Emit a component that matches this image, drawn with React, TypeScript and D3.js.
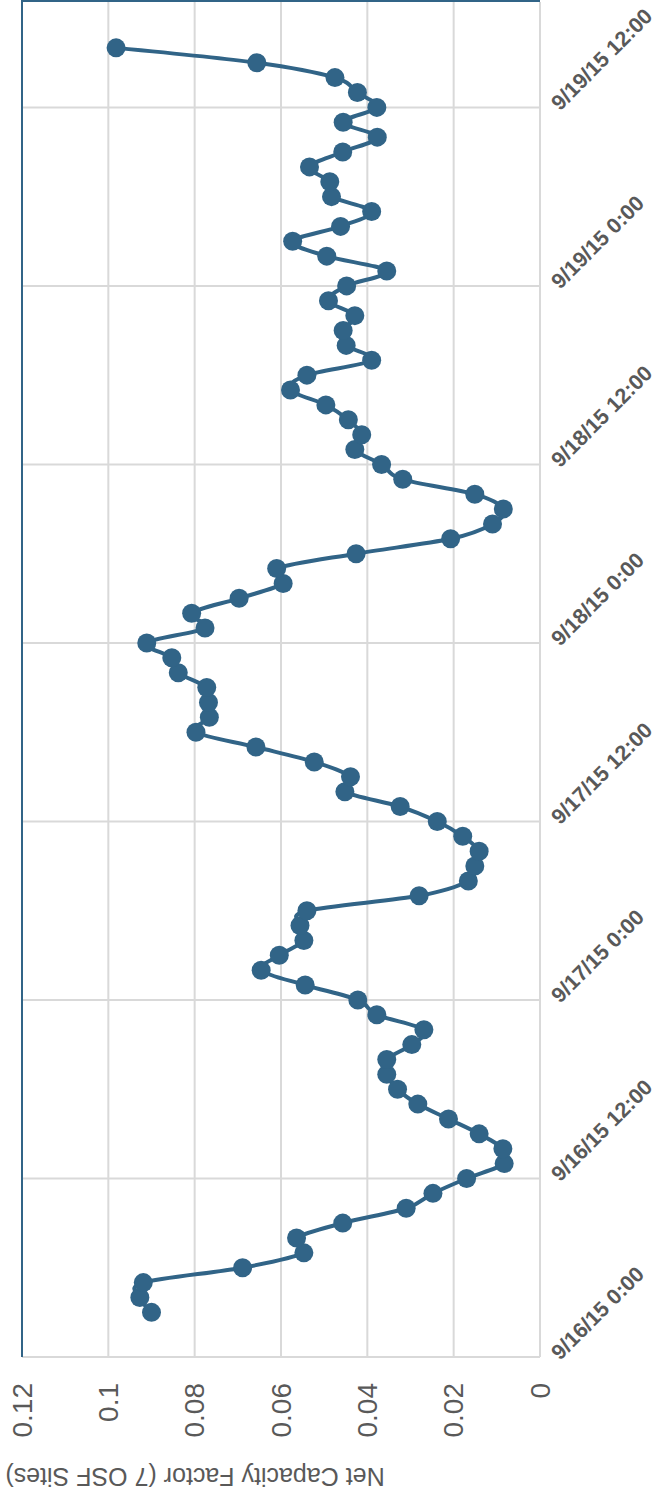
import React, { useEffect, useRef } from "react";
import * as d3 from "d3";

// hourly net capacity factor, first reading 9/16/15 3:00
const startTime = new Date(2015, 8, 16, 3, 0);
const capacityFactor = [
  0.0900, 0.0927, 0.0919, 0.0689, 0.0547, 0.0564, 0.0457, 0.0310, 0.0248, 0.0170,
  0.0083, 0.0086, 0.0141, 0.0212, 0.0283, 0.0330, 0.0355, 0.0355, 0.0297, 0.0269,
  0.0378, 0.0422, 0.0544, 0.0646, 0.0604, 0.0547, 0.0556, 0.0540, 0.0280, 0.0166,
  0.0151, 0.0141, 0.0179, 0.0238, 0.0324, 0.0452, 0.0439, 0.0523, 0.0658, 0.0797,
  0.0766, 0.0768, 0.0772, 0.0838, 0.0853, 0.0911, 0.0776, 0.0807, 0.0697, 0.0595,
  0.0610, 0.0426, 0.0207, 0.0110, 0.0085, 0.0151, 0.0318, 0.0367, 0.0429, 0.0413,
  0.0444, 0.0496, 0.0578, 0.0540, 0.0390, 0.0449, 0.0456, 0.0429, 0.0490, 0.0448,
  0.0355, 0.0494, 0.0573, 0.0462, 0.0390, 0.0483, 0.0487, 0.0534, 0.0457, 0.0377,
  0.0456, 0.0378, 0.0423, 0.0475, 0.0656, 0.0982,
];

const valueTicks = [0, 0.02, 0.04, 0.06, 0.08, 0.1, 0.12];
const timeTicks = [
  new Date(2015, 8, 16, 0), new Date(2015, 8, 16, 12),
  new Date(2015, 8, 17, 0), new Date(2015, 8, 17, 12),
  new Date(2015, 8, 18, 0), new Date(2015, 8, 18, 12),
  new Date(2015, 8, 19, 0), new Date(2015, 8, 19, 12),
];
const axisTitle = "Net Capacity Factor (7 OSF Sites)";

const W = 669;
const H = 1500;
const BLUE = "#316487";
const GRID = "#d9d9d9";
const TEXT = "#595959";
const FONT = "'Liberation Sans', Arial, sans-serif";

export default function App() {
  const svgRef = useRef<SVGSVGElement | null>(null);

  useEffect(() => {
    if (!svgRef.current) return;
    const svg = d3.select(svgRef.current);
    svg.selectAll("*").remove();

    const left = 22, right = 540, top = 2, bottom = 1357;

    // chart is drawn turned on its side: value runs right->left, time bottom->top
    const x = d3.scaleLinear().domain([0, 0.12]).range([right, left]);
    const y = d3.scaleTime()
      .domain([new Date(2015, 8, 16, 0), new Date(2015, 8, 19, 19, 5)])
      .range([bottom, top]);

    const data = capacityFactor.map((v, i) => ({
      t: d3.timeHour.offset(startTime, i),
      v,
    }));

    // gridlines
    svg.append("g")
      .selectAll("line")
      .data(valueTicks.filter(d => d > 0 && d < 0.12))
      .enter()
      .append("line")
      .attr("x1", d => x(d)).attr("x2", d => x(d))
      .attr("y1", top).attr("y2", bottom)
      .style("stroke", GRID).style("stroke-width", 2);

    svg.append("g")
      .selectAll("line")
      .data(timeTicks.slice(1))
      .enter()
      .append("line")
      .attr("x1", left).attr("x2", right)
      .attr("y1", d => y(d)).attr("y2", d => y(d))
      .style("stroke", GRID).style("stroke-width", 2);

    // frame
    svg.append("line").attr("x1", right).attr("x2", right).attr("y1", top).attr("y2", bottom)
      .style("stroke", GRID).style("stroke-width", 2);
    svg.append("line").attr("x1", left).attr("x2", right).attr("y1", bottom).attr("y2", bottom)
      .style("stroke", GRID).style("stroke-width", 2);
    svg.append("line").attr("x1", left).attr("x2", left).attr("y1", top - 2).attr("y2", bottom)
      .style("stroke", BLUE).style("stroke-width", 2);
    svg.append("line").attr("x1", left).attr("x2", right).attr("y1", top - 1).attr("y2", top - 1)
      .style("stroke", BLUE).style("stroke-width", 2);

    // series line
    const line = d3.line<{ t: Date; v: number }>()
      .x(d => x(d.v))
      .y(d => y(d.t))
      .curve(d3.curveCatmullRom.alpha(0));

    svg.append("path")
      .datum(data)
      .attr("d", line)
      .style("fill", "none")
      .style("stroke", BLUE)
      .style("stroke-width", 4);

    svg.append("g")
      .selectAll("circle")
      .data(data)
      .enter()
      .append("circle")
      .attr("cx", d => x(d.v))
      .attr("cy", d => y(d.t))
      .attr("r", 9.5)
      .style("fill", BLUE);

    // value labels, turned -90
    svg.append("g")
      .selectAll("text")
      .data(valueTicks)
      .enter()
      .append("text")
      .attr("transform", d => `translate(${x(d)},${bottom + 26}) rotate(-90)`)
      .attr("text-anchor", "end")
      .attr("dy", "0.35em")
      .attr("font-family", FONT)
      .attr("font-size", 28)
      .attr("fill", TEXT)
      .text(d => d3.format("")(+d.toFixed(2)));

    // time labels
    const fmt = (d: Date) =>
      `${d.getMonth() + 1}/${d.getDate()}/${String(d.getFullYear()).slice(2)} ${d.getHours()}:${String(d.getMinutes()).padStart(2, "0")}`;
    svg.append("g")
      .selectAll("text")
      .data(timeTicks)
      .enter()
      .append("text")
      .attr("transform", d => `translate(${right + 20},${y(d) + 4}) rotate(-45)`)
      .attr("text-anchor", "start")
      .attr("font-family", FONT)
      .attr("font-size", 21.5)
      .attr("font-weight", "bold")
      .attr("fill", TEXT)
      .text(fmt);

    // axis title, upside down
    svg.append("text")
      .attr("transform", `translate(195,1477) rotate(180)`)
      .attr("text-anchor", "middle")
      .attr("dy", "0.35em")
      .attr("font-family", FONT)
      .attr("font-size", 25)
      .attr("fill", TEXT)
      .text(axisTitle);
  }, []);

  return (
    <svg
      ref={svgRef}
      width={W}
      height={H}
      style={{ position: "absolute", left: 0, top: 0, background: "#fff" }}
    />
  );
}
